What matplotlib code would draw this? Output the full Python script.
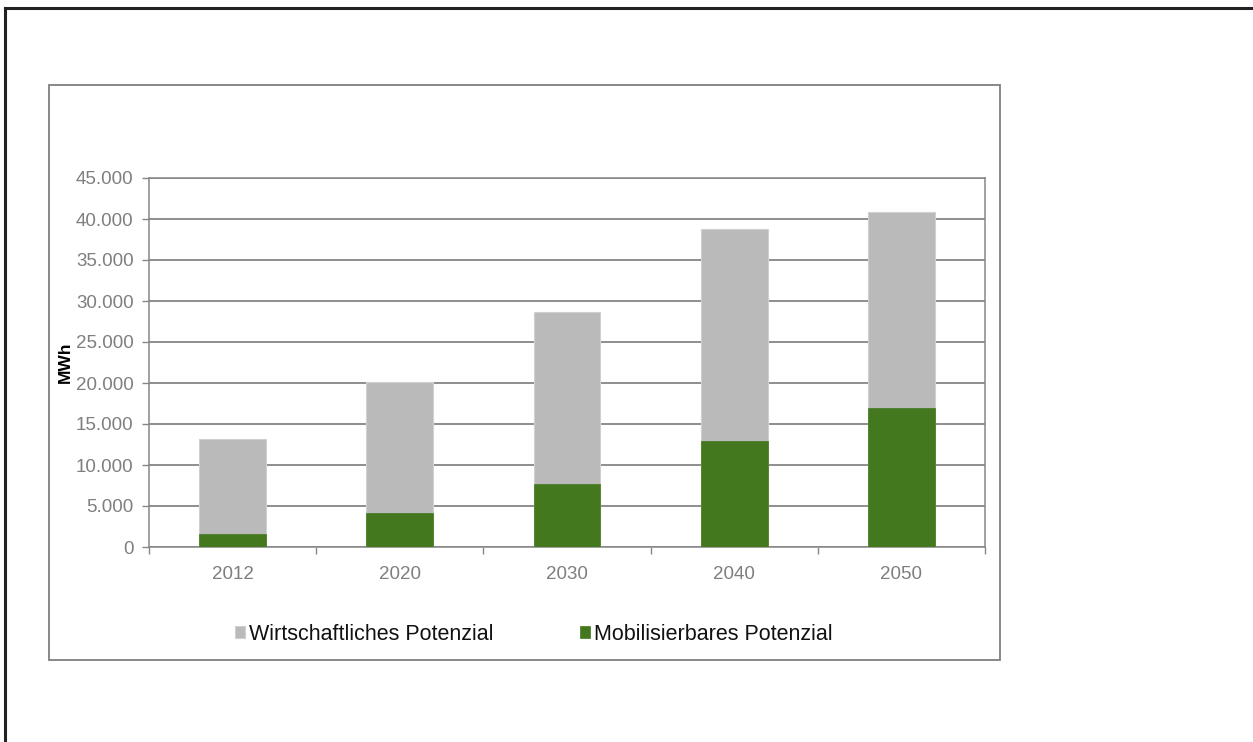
import matplotlib
matplotlib.use("Agg")
import matplotlib.pyplot as plt
from matplotlib.lines import Line2D
from matplotlib.patches import Rectangle
from matplotlib.ticker import FuncFormatter, FixedLocator

plt.rcParams['font.family'] = ['Liberation Sans', 'DejaVu Sans']

years = ["2012", "2020", "2030", "2040", "2050"]
wirtschaftlich = [13200, 20100, 28700, 38800, 40800]
mobilisierbar = [1600, 4200, 7700, 12900, 17000]

W, H = 1253, 742
fig = plt.figure(figsize=(W / 100, H / 100), dpi=100)

# outer border (top and left)
fig.add_artist(Line2D([5 / W, 1], [1 - 8 / H, 1 - 8 / H], color='#222222', lw=2.2, transform=fig.transFigure))
fig.add_artist(Line2D([5 / W, 5 / W], [0, 1 - 8 / H], color='#222222', lw=2.2, transform=fig.transFigure))
# inner chart box
fig.add_artist(Rectangle((49 / W, 1 - 660 / H), (1000 - 49) / W, (660 - 85) / H,
                         fill=False, edgecolor='#7f7f7f', lw=1.3, transform=fig.transFigure))

ax = fig.add_axes([149 / W, 1 - 547 / H, (985 - 149) / W, (547 - 178) / H])
x = list(range(len(years)))
bw = 0.4
ax.bar(x, wirtschaftlich, width=bw, color='#bababa', edgecolor='#d0d0d0', lw=0.8,
       label='Wirtschaftliches Potenzial', zorder=3)
ax.bar(x, mobilisierbar, width=bw, color='#44781e', edgecolor='#44781e', lw=0.5,
       label='Mobilisierbares Potenzial', zorder=4)

ax.set_xlim(-0.5, len(years) - 0.5)
ax.set_ylim(0, 45000)
ax.set_yticks(range(0, 45001, 5000))
ax.yaxis.set_major_formatter(FuncFormatter(lambda v, p: f"{int(v):,}".replace(",", ".")))
ax.set_xticks(x)
ax.set_xticklabels(years)
ax.xaxis.set_minor_locator(FixedLocator([i - 0.5 for i in range(len(years) + 1)]))
ax.tick_params(axis='x', which='major', length=0, pad=14, labelsize=13.5, labelcolor='#7f7f7f')
ax.tick_params(axis='x', which='minor', length=5, color='#868686', width=1)
ax.tick_params(axis='y', length=5, color='#868686', width=1, pad=6, labelsize=13.5, labelcolor='#7f7f7f')
ax.grid(axis='y', color='#6f6f6f', lw=1.1, zorder=0)
for s in ax.spines.values():
    s.set_color('#868686')
    s.set_linewidth(1.1)
ax.set_ylabel('MWh', fontsize=12.5, fontweight='bold', color='black')
ax.yaxis.set_label_coords(-0.091, 0.5)

leg = ax.legend(loc='center', bbox_to_anchor=((534 - 149) / (985 - 149), 1 - (634 - 178) / (547 - 178)),
                ncol=2, frameon=False, fontsize=15.5, handlelength=0.47, handleheight=0.47,
                handletextpad=0.2, columnspacing=4.0)
for t in leg.get_texts():
    t.set_color('#111111')

fig.savefig('out.png', dpi=100)
